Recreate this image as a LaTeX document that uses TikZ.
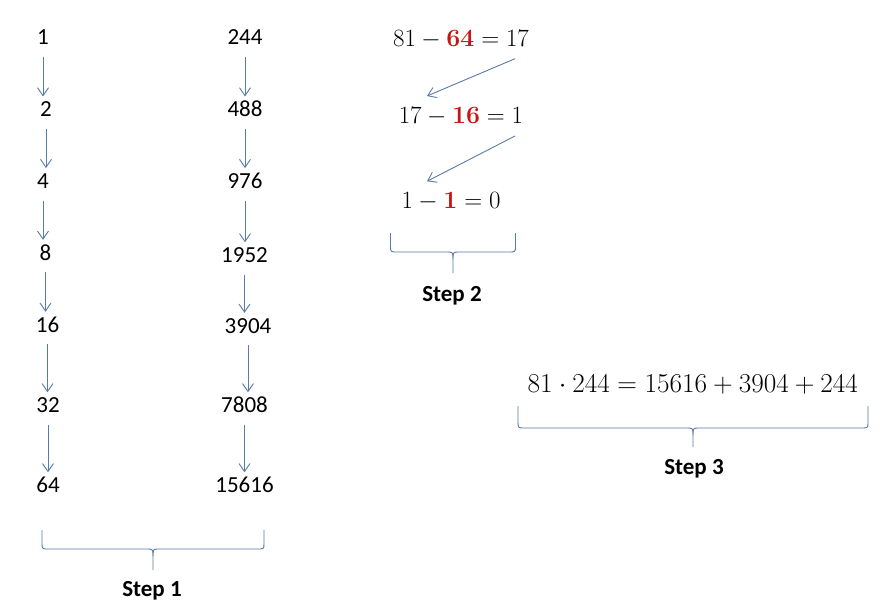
\documentclass[tikz,border=0pt]{standalone}
\usepackage[no-math]{fontspec}
\setmainfont{Carlito}
\usetikzlibrary{arrows.meta,calc}
\definecolor{lineblue}{RGB}{88,124,168}
\definecolor{numred}{RGB}{200,20,20}
\newcommand{\rd}[1]{{\color{numred}\mathbf{#1}}}
\newcommand{\curlybrace}[5]{%
  \draw[bracestyle] (#1,#3) -- (#1,#4-6) .. controls (#1,#4) .. (#1+7,#4)
    -- ({(#1+#2)/2-7},#4) .. controls ({(#1+#2)/2},#4) .. ({(#1+#2)/2},#4+7) -- ({(#1+#2)/2},#5);
  \draw[bracestyle] (#2,#3) -- (#2,#4-6) .. controls (#2,#4) .. (#2-7,#4)
    -- ({(#1+#2)/2+7},#4) .. controls ({(#1+#2)/2},#4) .. ({(#1+#2)/2},#4+7);
}
\tikzset{
  num/.style={inner sep=0pt, anchor=base, text height=14pt, text depth=0pt, font=\fontsize{23}{27}\selectfont},
  eqn/.style={inner sep=0pt, anchor=base, font=\fontsize{24}{28}\selectfont},
  steplabel/.style={inner sep=0pt, anchor=base, font=\fontsize{23}{27}\selectfont\bfseries},
  arr/.style={draw=lineblue, line width=0.9pt, -{Straight Barb[length=8pt,width=11pt]}, shorten <=12pt, shorten >=6pt},
  diagarr/.style={draw=lineblue, line width=0.9pt, -{Straight Barb[length=8pt,width=11pt]}},
  bracestyle/.style={draw=lineblue, line width=0.9pt, line join=round},
}
\begin{document}
\begin{tikzpicture}[x=1pt,y=-1pt]
\fill[white] (0,0) rectangle (890,615);
\useasboundingbox (0,0) rectangle (890,615);

% Step 1, left column
\node[num] (n1)  at (43,44.5)  {1};
\node[num] (n2)  at (46,116.7) {2};
\node[num] (n4)  at (43,188.3) {4};
\node[num] (n8)  at (45.5,260) {8};
\node[num] (n16) at (47.5,332) {16};
\node[num] (n32) at (48,412.5) {32};
\node[num] (n64) at (48,492.5) {64};

% Step 1, right column
\node[num] (r244)   at (245,44.5)   {244};
\node[num] (r488)   at (245,116.7)  {488};
\node[num] (r976)   at (245,188.3)  {976};
\node[num] (r1952)  at (244.5,262.5){1952};
\node[num] (r3904)  at (248,333)    {3904};
\node[num] (r7808)  at (244.5,412.5){7808};
\node[num] (r15616) at (244.5,492.5){15616};

\foreach \a/\b in {n1/n2,n2/n4,n4/n8,n8/n16,n16/n32,n32/n64,
                   r244/r488,r488/r976,r976/r1952,r1952/r3904,r3904/r7808,r7808/r15616}
  \draw[arr] (\a.south) -- (\a.south |- \b.north);

\curlybrace{42}{264}{530}{549}{570}
\node[steplabel] (s1) at (152,596.7) {Step 1};

% Step 2
\node[eqn] (e1) at (461,46.7)  {$81-\rd{64}=17$};
\node[eqn] (e2) at (461,124)   {$17-\rd{16}=1$};
\node[eqn] (e3) at (451,208.3) {$1-\rd{1}=0$};
\draw[diagarr] ($(e1.base)+(54,12)$) -- ($(e2.base)+(-34,-28)$);
\draw[diagarr] ($(e2.base)+(54,12)$) -- ($(e3.base)+(-24,-27)$);
\curlybrace{390.5}{515.5}{233}{252}{273}
\node[steplabel] (s2) at (452,301.7) {Step 2};

% Step 3
\node[eqn] (e4) at (693,392.3) {\scalebox{1.096}{$81\cdot 244=15616+3904+244$}};
\curlybrace{518}{868}{406}{428}{447}
\node[steplabel] (s3) at (694,474.3) {Step 3};
\end{tikzpicture}
\end{document}
